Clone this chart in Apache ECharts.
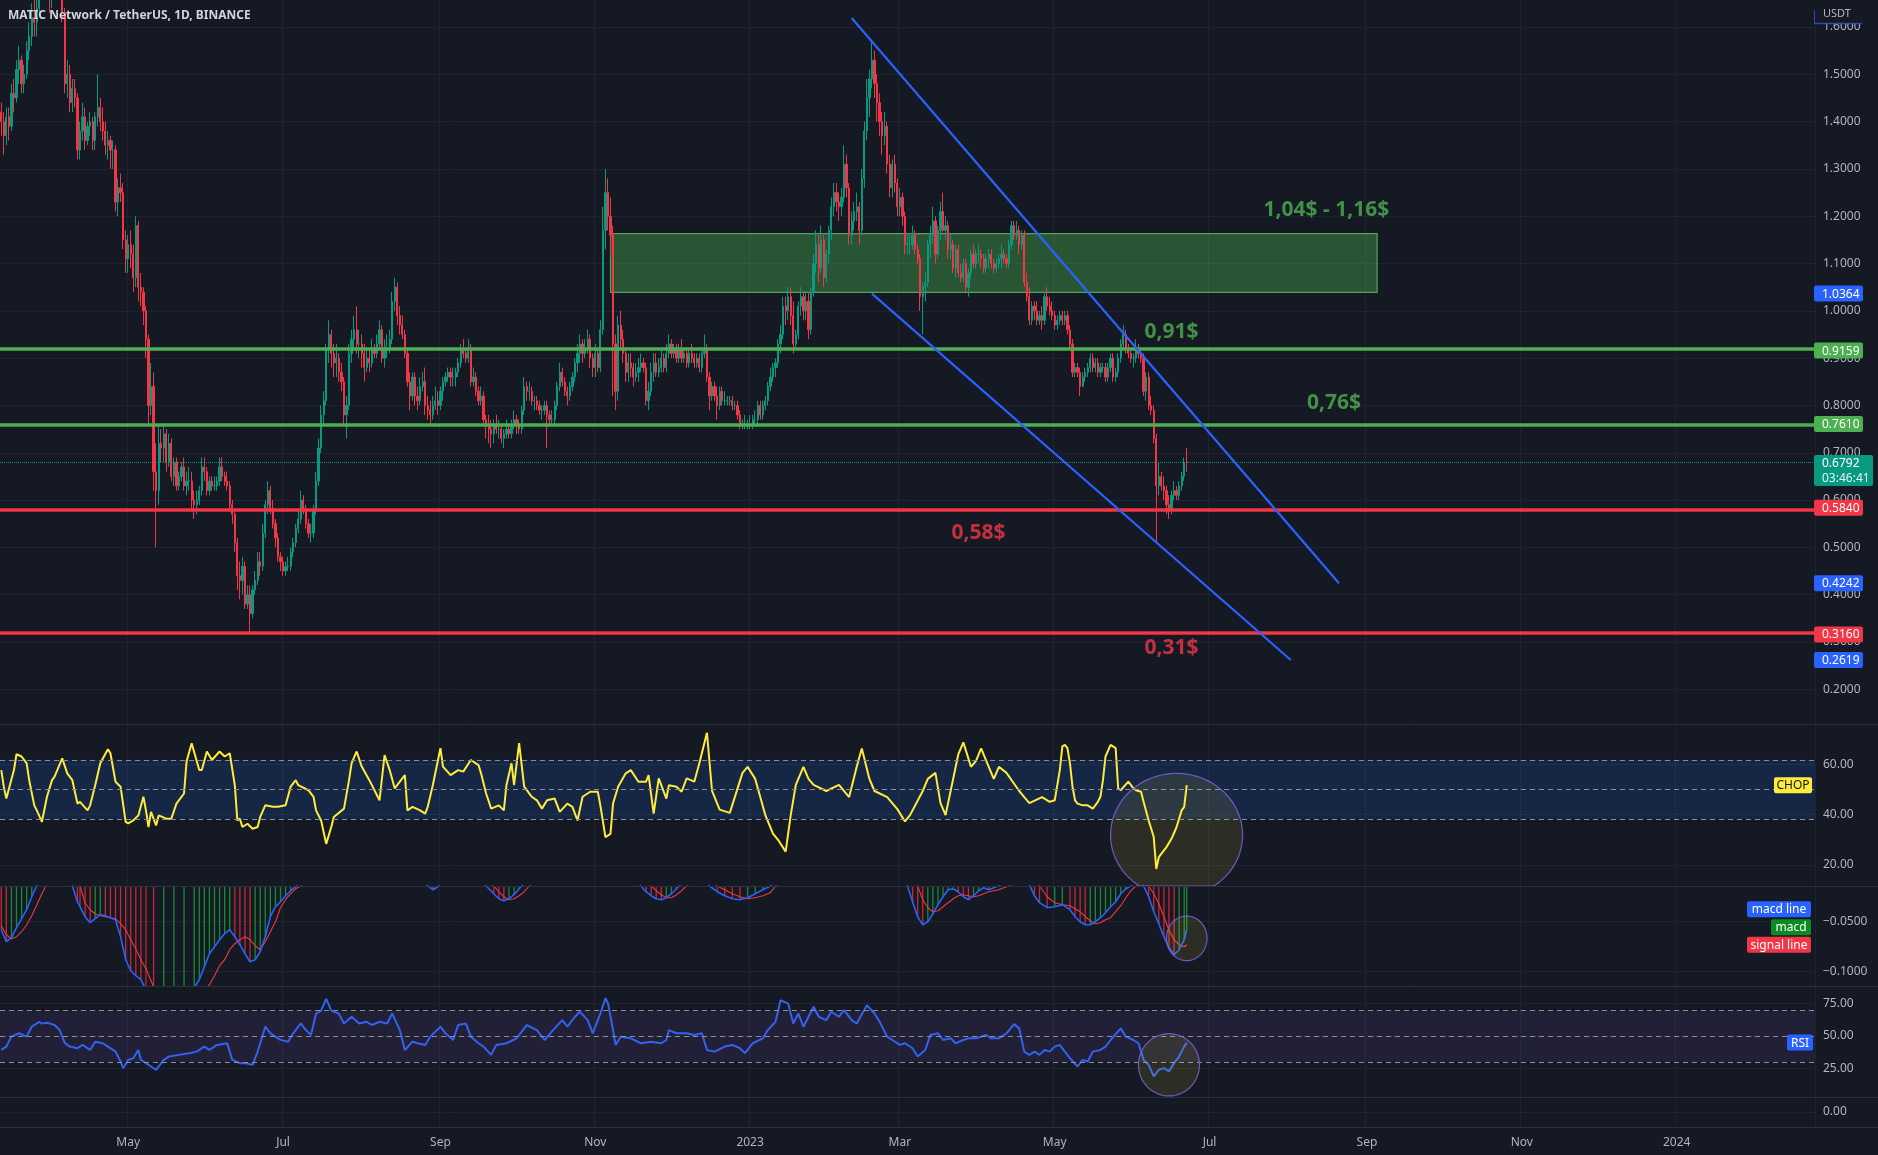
<!DOCTYPE html>
<html><head><meta charset="utf-8"><title>MATIC Network / TetherUS</title>
<script src="https://cdn.jsdelivr.net/npm/echarts@6.0.0/dist/echarts.min.js"></script>
<style>html,body{margin:0;padding:0;background:#151924;overflow:hidden}#chart{width:1878px;height:1155px}</style>
</head><body><div id="chart"></div>
<script>
// ---------------- DATA ----------------
const startDate = '2022-03-12';
const totalDays = 715;
const firstOpen = 1.42;
const closes = [
1.40,1.37,1.41,1.39,1.46,1.45,1.51,1.53,1.48,1.50,1.55,1.58,1.62,1.61,1.64,1.72,1.70,1.74,1.68,1.66,
1.72,1.69,1.73,1.70,1.63,1.48,1.50,1.44,1.47,1.45,1.34,1.38,1.41,1.36,1.39,1.40,1.36,1.41,1.43,1.40,1.38,1.35,1.36,1.34,1.34,1.23,1.26,1.25,1.15,1.11,
1.14,1.12,1.07,1.18,1.05,1.04,1.00,0.94,0.80,0.84,0.66,0.62,0.72,0.71,0.74,0.68,0.72,0.65,0.68,0.63,0.65,0.67,0.63,0.64,0.64,0.60,0.59,0.60,0.62,0.67,0.66,
0.62,0.64,0.63,0.63,0.64,0.67,0.65,0.64,0.63,0.59,0.57,0.51,0.44,0.43,0.46,0.38,0.40,0.36,0.41,0.43,0.47,0.46,0.53,0.59,0.62,0.58,0.55,0.52,0.48,0.47,
0.45,0.46,0.46,0.49,0.51,0.54,0.56,0.60,0.58,0.55,0.53,0.53,0.58,0.64,0.71,0.78,0.81,0.92,0.95,0.91,0.89,0.90,0.87,0.85,0.78,0.80,0.91,0.94,0.96,0.93,0.93,
0.91,0.88,0.90,0.89,0.92,0.91,0.93,0.96,0.90,0.92,0.92,0.94,1.02,1.05,0.99,0.97,0.95,0.91,0.85,0.82,0.86,0.82,0.81,0.84,0.85,0.80,0.79,0.78,0.80,0.81,0.80,
0.83,0.85,0.86,0.87,0.86,0.86,0.87,0.89,0.92,0.91,0.90,0.92,0.85,0.86,0.83,0.81,0.82,0.77,0.76,0.75,0.74,0.76,0.75,0.75,0.73,0.74,0.75,0.74,0.76,0.77,
0.76,0.75,0.79,0.84,0.83,0.83,0.81,0.81,0.80,0.79,0.79,0.80,0.78,0.77,0.77,0.80,0.84,0.87,0.85,0.83,0.82,0.84,0.86,0.89,0.91,0.93,0.91,0.92,0.94,0.90,0.88,
0.91,0.88,0.96,1.17,1.25,1.20,1.16,0.93,0.83,0.97,0.94,0.91,0.87,0.89,0.88,0.86,0.87,0.88,0.89,0.88,0.81,0.83,0.87,0.89,0.87,0.88,0.90,0.88,0.91,0.93,
0.91,0.92,0.90,0.92,0.90,0.91,0.89,0.91,0.90,0.89,0.90,0.88,0.91,0.92,0.86,0.82,0.84,0.82,0.80,0.83,0.81,0.81,0.81,0.81,0.80,0.80,0.78,0.76,0.76,0.76,0.76,
0.76,0.77,0.77,0.80,0.78,0.80,0.81,0.84,0.86,0.88,0.89,0.93,0.95,1.01,1.00,1.03,0.99,0.93,0.95,1.01,1.03,1.00,1.02,0.96,1.04,1.10,1.14,1.09,1.15,1.07,1.12,
1.17,1.22,1.25,1.23,1.22,1.24,1.31,1.26,1.16,1.19,1.21,1.22,1.17,1.28,1.38,1.45,1.49,1.53,1.48,1.44,1.40,1.37,1.39,1.31,1.26,1.31,1.27,1.22,
1.24,1.20,1.14,1.14,1.14,1.16,1.13,1.11,1.03,1.05,1.06,1.14,1.16,1.19,1.12,1.17,1.21,1.17,1.18,1.13,1.14,1.09,1.13,1.08,1.07,1.10,1.05,1.08,1.12,1.10,1.12,
1.12,1.11,1.09,1.11,1.12,1.10,1.09,1.10,1.11,1.12,1.11,1.10,1.14,1.18,1.16,1.17,1.14,1.16,1.06,1.03,0.98,1.01,1.00,0.98,0.99,0.98,1.03,1.01,1.00,0.99,
0.97,0.98,0.99,0.98,0.99,0.96,0.93,0.87,0.88,0.87,0.84,0.86,0.87,0.88,0.90,0.88,0.89,0.87,0.88,0.88,0.86,0.88,0.90,0.86,0.87,0.90,0.93,0.95,0.92,0.91,0.90,
0.90,0.92,0.91,0.90,0.83,0.86,0.80,0.79,0.73,0.63,0.65,0.63,0.62,0.59,0.58,0.61,0.62,0.61,0.63,0.65,0.68,0.6792];
const highs = [
1.44,1.42,1.43,1.43,1.48,1.49,1.53,1.56,1.54,1.52,1.57,1.61,1.65,1.66,1.66,1.76,1.75,1.76,1.76,1.71,
1.75,1.74,1.75,1.76,1.72,1.64,1.53,1.52,1.49,1.49,1.46,1.40,1.44,1.43,1.40,1.42,1.41,1.42,1.50,1.45,1.43,1.40,1.38,1.37,1.36,1.35,1.28,1.29,1.27,1.17,
1.16,1.17,1.14,1.20,1.19,1.08,1.05,1.01,0.95,0.89,0.87,0.72,0.76,0.75,0.76,0.75,0.74,0.73,0.69,0.69,0.66,0.68,0.69,0.66,0.67,0.66,0.62,0.62,0.63,0.69,0.69,
0.67,0.65,0.65,0.65,0.65,0.69,0.69,0.66,0.66,0.64,0.60,0.58,0.52,0.47,0.48,0.47,0.42,0.42,0.42,0.45,0.49,0.49,0.55,0.60,0.64,0.63,0.60,0.56,0.53,0.49,
0.48,0.47,0.48,0.50,0.52,0.55,0.58,0.62,0.61,0.59,0.56,0.55,0.59,0.66,0.73,0.80,0.83,0.93,0.98,0.96,0.93,0.93,0.91,0.89,0.86,0.82,0.93,0.96,0.99,1.01,0.96,
0.95,0.93,0.92,0.92,0.94,0.93,0.95,0.98,0.97,0.94,0.95,0.96,1.04,1.07,1.06,1.01,0.99,0.96,0.92,0.87,0.87,0.87,0.84,0.86,0.87,0.88,0.82,0.81,0.82,0.84,0.83,
0.84,0.86,0.87,0.88,0.88,0.88,0.88,0.90,0.93,0.94,0.92,0.94,0.93,0.88,0.87,0.84,0.84,0.83,0.78,0.78,0.77,0.77,0.78,0.77,0.76,0.75,0.77,0.76,0.77,0.79,
0.78,0.77,0.80,0.86,0.85,0.85,0.84,0.82,0.82,0.81,0.80,0.81,0.81,0.79,0.79,0.81,0.85,0.89,0.88,0.86,0.84,0.85,0.87,0.90,0.93,0.95,0.94,0.94,0.96,0.95,0.91,
0.93,0.92,0.98,1.22,1.30,1.28,1.24,1.18,0.95,0.99,1.00,0.96,0.92,0.91,0.91,0.89,0.89,0.90,0.91,0.90,0.89,0.85,0.89,0.91,0.91,0.90,0.92,0.91,0.93,0.95,
0.94,0.93,0.93,0.93,0.94,0.92,0.92,0.92,0.93,0.91,0.91,0.91,0.92,0.95,0.93,0.87,0.85,0.85,0.84,0.84,0.84,0.83,0.82,0.82,0.82,0.81,0.81,0.79,0.77,0.78,0.77,
0.78,0.78,0.79,0.81,0.81,0.81,0.82,0.85,0.88,0.89,0.90,0.94,0.97,1.03,1.03,1.05,1.05,1.02,0.96,1.02,1.05,1.04,1.04,1.04,1.05,1.12,1.17,1.16,1.18,1.16,1.13,
1.18,1.24,1.27,1.27,1.25,1.26,1.35,1.33,1.27,1.21,1.23,1.25,1.23,1.30,1.40,1.49,1.51,1.57,1.55,1.50,1.46,1.42,1.42,1.40,1.33,1.32,1.33,1.28,
1.26,1.25,1.21,1.16,1.16,1.18,1.17,1.14,1.12,1.06,1.08,1.15,1.18,1.22,1.20,1.18,1.23,1.25,1.20,1.19,1.16,1.15,1.14,1.14,1.10,1.11,1.11,1.09,1.13,1.14,1.13,
1.14,1.13,1.12,1.12,1.13,1.13,1.11,1.11,1.12,1.14,1.13,1.12,1.15,1.19,1.19,1.19,1.18,1.17,1.17,1.08,1.05,1.02,1.02,1.02,1.00,1.01,1.04,1.05,1.03,1.02,
1.00,0.99,1.00,1.00,1.00,1.00,0.97,0.94,0.89,0.89,0.88,0.87,0.88,0.89,0.91,0.91,0.90,0.90,0.89,0.89,0.89,0.89,0.91,0.91,0.88,0.91,0.94,0.97,0.96,0.93,0.92,
0.91,0.94,0.93,0.92,0.91,0.87,0.87,0.82,0.80,0.74,0.68,0.66,0.65,0.63,0.61,0.62,0.64,0.63,0.64,0.66,0.69,0.71];
const lows = [
1.37,1.33,1.35,1.36,1.38,1.42,1.44,1.48,1.46,1.46,1.49,1.53,1.56,1.58,1.58,1.63,1.67,1.68,1.66,1.63,
1.64,1.66,1.67,1.68,1.61,1.46,1.45,1.42,1.42,1.43,1.32,1.32,1.36,1.34,1.35,1.37,1.34,1.34,1.39,1.38,1.36,1.33,1.32,1.30,1.30,1.21,1.20,1.23,1.13,1.08,
1.08,1.09,1.04,1.05,1.02,1.01,0.97,0.90,0.76,0.78,0.62,0.50,0.59,0.68,0.68,0.66,0.67,0.64,0.63,0.62,0.62,0.64,0.62,0.61,0.62,0.58,0.56,0.57,0.59,0.61,0.64,
0.61,0.61,0.62,0.62,0.62,0.63,0.64,0.63,0.62,0.58,0.55,0.49,0.41,0.39,0.40,0.37,0.37,0.32,0.35,0.40,0.42,0.44,0.45,0.52,0.57,0.57,0.54,0.50,0.47,0.45,
0.44,0.44,0.45,0.45,0.48,0.50,0.53,0.55,0.57,0.54,0.52,0.51,0.52,0.57,0.63,0.70,0.76,0.80,0.89,0.88,0.86,0.86,0.85,0.83,0.76,0.73,0.79,0.89,0.92,0.91,0.90,
0.88,0.85,0.87,0.87,0.88,0.90,0.90,0.92,0.89,0.88,0.90,0.91,0.93,1.00,0.97,0.95,0.94,0.90,0.84,0.79,0.81,0.80,0.79,0.80,0.83,0.78,0.77,0.76,0.77,0.79,0.78,
0.79,0.81,0.84,0.85,0.84,0.84,0.84,0.86,0.88,0.90,0.89,0.89,0.84,0.84,0.82,0.80,0.80,0.76,0.73,0.72,0.71,0.72,0.74,0.73,0.72,0.71,0.73,0.73,0.73,0.75,
0.74,0.74,0.74,0.78,0.81,0.81,0.80,0.79,0.79,0.78,0.77,0.78,0.71,0.76,0.76,0.76,0.79,0.83,0.84,0.82,0.80,0.81,0.83,0.85,0.87,0.89,0.89,0.90,0.91,0.88,0.86,
0.86,0.87,0.87,0.95,1.13,1.17,1.12,0.82,0.79,0.81,0.92,0.89,0.85,0.85,0.86,0.84,0.85,0.85,0.87,0.87,0.80,0.79,0.82,0.85,0.86,0.86,0.87,0.87,0.87,0.90,
0.90,0.90,0.89,0.89,0.89,0.89,0.88,0.88,0.89,0.88,0.88,0.87,0.87,0.90,0.85,0.79,0.81,0.81,0.77,0.79,0.80,0.80,0.80,0.80,0.79,0.79,0.77,0.75,0.75,0.75,0.75,
0.75,0.75,0.76,0.76,0.77,0.77,0.79,0.80,0.83,0.85,0.86,0.88,0.91,0.94,0.97,0.98,0.97,0.91,0.92,0.94,0.99,0.98,0.98,0.94,0.95,1.03,1.08,1.06,1.08,1.05,1.06,
1.10,1.15,1.20,1.21,1.19,1.20,1.23,1.24,1.14,1.14,1.17,1.19,1.14,1.16,1.26,1.36,1.41,1.47,1.45,1.40,1.37,1.33,1.35,1.29,1.24,1.24,1.25,1.20,
1.20,1.18,1.12,1.12,1.12,1.13,1.12,1.10,1.00,0.95,1.02,1.05,1.11,1.14,1.10,1.11,1.15,1.16,1.15,1.11,1.11,1.08,1.07,1.07,1.06,1.06,1.04,1.03,1.07,1.09,1.09,
1.10,1.09,1.08,1.08,1.09,1.09,1.08,1.08,1.09,1.09,1.10,1.09,1.09,1.13,1.15,1.15,1.12,1.13,1.05,1.02,0.97,0.97,0.98,0.97,0.97,0.96,0.97,1.00,0.99,0.98,
0.96,0.96,0.97,0.97,0.97,0.95,0.92,0.86,0.86,0.86,0.82,0.84,0.85,0.86,0.87,0.87,0.87,0.86,0.86,0.87,0.85,0.85,0.87,0.85,0.85,0.86,0.89,0.92,0.91,0.90,0.89,
0.88,0.89,0.90,0.89,0.82,0.81,0.79,0.78,0.72,0.51,0.61,0.62,0.60,0.57,0.56,0.57,0.60,0.60,0.60,0.62,0.64,0.66];

const tickDates  = ['2022-05-01','2022-07-01','2022-09-01','2022-11-01','2023-01-01','2023-03-01','2023-05-01','2023-07-01','2023-09-01','2023-11-01','2024-01-01'];
const tickLabels = ['May','Jul','Sep','Nov','2023','Mar','May','Jul','Sep','Nov','2024'];
const priceTicks = [0.2,0.3,0.4,0.5,0.6,0.7,0.8,0.9,1.0,1.1,1.2,1.3,1.4,1.5,1.6];
const chopTicks = [20,40,60];
const macdTicks = [-0.05,-0.10];
const rsiTicks = [25,50,75];

const greenLevels = [0.9159, 0.7610];
const redLevels = [0.5840, 0.3160];
const lastPrice = 0.6792;
const countdown = '03:46:41';
const zoneDates = ['2022-11-07','2023-09-05'];
const zonePrices = [1.163, 1.039];
const upperTrendDates = ['2023-02-10','2023-08-21'];
const upperTrendPrices = [1.619, 0.4242];
const lowerTrendDates = ['2023-02-18','2023-08-02'];
const lowerTrendPrices = [1.0364, 0.2619];
const noteTexts  = ['1,04$ - 1,16$','0,91$','0,76$','0,58$','0,31$'];
const noteDates  = ['2023-08-16','2023-06-16','2023-08-19','2023-04-01','2023-06-16'];
const notePrices = [1.213, 0.956, 0.8046, 0.5313, 0.2867];
const noteColors = ['#4caf50','#4caf50','#4caf50','#f23645','#f23645'];

const chopDays = [0,1,2,5,6,8,10,11,13,14, 16,18,20,21,24,26,28,30,31,34, 35,37,39,42,43,45,47,49,50,52, 54,56,57,58,59,61,62,65,67,69,
 72,73,75,78,79,81,83,86,88,90, 92,93,94,95,97,99,101,102,104,107, 109,112,114,116,117,121,123,124,126,128, 130,131,135,137,138,140,142,145,149,151,
 153,155,157,159,160,162,165,167,168,170, 173,174,177,180,182,185,188,189,191,193, 196,198,199,201,202,204,206,209,211,213, 215,218,220,223,225,227,229,232,235,236,
 238,240,241,243,246,248,251,254,255,257, 259,262,263,266,268,270,273,275,278,280, 283,287,292,294,297,299,301,304,306,309, 311,313,316,318,320,325,330,334,337,339,
 342,344,349,353,356,358,363,365,368,370, 372,377,379,382,384,386,389,391,393,396, 401,403,405,410,413,415,417,418,419,420, 421,422,423,424,426,428,430,432,433,434,
 435,437,439,440,441,444,446,447,449,450, 452,454,455,456,459,461,463,465,466,467];
const chopVals = [57.7,51.1,46.4,57.7,64.0,63.1,60.4,53.7,43.7,41.7, 37.1,47.1,53.7,55.1,62.4,56.4,53.7,44.4,45.1,41.7, 43.7,51.7,60.4,66.0,64.4,53.1,51.1,37.1,36.5,37.7, 39.7,47.1,41.7,35.1,41.1,35.7,39.7,38.4,38.4,44.4,
 48.4,61.1,68.4,57.7,57.7,65.1,61.7,65.1,63.1,64.4, 51.7,37.7,38.4,35.1,36.4,34.4,35.1,39.1,43.7,43.1, 43.1,43.7,51.1,53.7,51.7,49.7,47.1,41.7,37.7,28.4, 35.1,39.1,42.4,53.7,60.4,65.1,59.1,53.7,45.7,63.7,
 57.7,50.4,53.1,55.7,41.7,43.1,41.7,40.4,43.1,51.7, 66.4,59.1,55.7,57.7,57.1,61.7,59.7,56.4,48.4,42.4, 43.7,41.7,51.7,60.4,51.7,68.4,51.1,47.1,45.7,42.4, 45.7,46.4,41.1,44.4,43.1,37.7,47.1,49.1,49.1,43.7,
 31.1,32.4,44.4,51.1,56.4,57.7,53.1,53.1,55.7,40.4, 54.4,46.4,51.7,51.1,49.1,54.4,53.1,60.4,72.5,49.4, 42.0,40.7,56.6,59.0,54.2,47.0,39.8,32.5,30.0,25.3, 39.8,51.8,59.0,54.2,51.8,49.4,51.8,47.0,59.0,66.3,
 54.2,49.4,47.0,42.2,37.3,39.8,49.4,54.2,56.6,44.6, 39.8,63.9,68.7,59.0,61.4,66.3,59.0,54.2,59.0,56.6, 49.4,47.0,44.6,47.0,45.1,45.7,57.7,67.1,67.7,66.4, 60.4,51.1,45.7,44.4,43.7,43.7,42.4,45.1,47.1,53.7,
 63.1,67.7,66.4,50.4,49.7,53.1,50.4,49.7,49.1,45.1, 37.7,31.1,18.4,23.1,27.1,30.4,35.1,41.7,43.1,51.7];

const rsiDays = [0,2,4,7,10,12,15,16,18,21, 23,25,27,30,32,35,37,40,42,45, 47,48,50,52,54,55,57,59,61,64, 66,70,74,77,80,82,85,89,91,94,
 96,99,101,104,106,110,113,115,118,120, 122,124,126,128,130,133,135,138,141,144, 146,149,152,154,157,159,162,164,167,169, 173,175,178,180,183,185,188,190,193,195,
 199,203,207,211,214,218,221,223,226,228, 231,233,236,238,239,241,242,244,248,252, 256,260,262,263,266,270,273,276,278,281, 285,288,291,293,296,300,302,305,307,310,
 312,314,316,320,322,325,327,330,332,335, 337,341,344,346,349,351,354,356,359,361, 364,366,369,371,374,376,379,381,384,388, 390,393,396,399,401,403,405,407,409,411,
 413,415,417,419,421,424,426,428,430,433, 435,437,441,443,446,448,450,452,454,456, 458,460,462,464,466,467];
const rsiVals = [39.2,41.8,49.5,52.1,49.5,57.2,61.0,59.7,60.3,58.5, 54.6,44.6,41.8,40.5,43.1,39.2,45.6,44.4,41.8,37.9, 30.3,25.1,31.5,32.8,39.2,31.5,29.0,26.4,23.8,31.5, 34.1,35.4,36.7,37.9,41.8,39.2,43.1,44.4,31.5,29.0,
 29.0,27.7,38.0,57.2,52.1,47.0,45.6,52.1,59.7,54.6, 50.8,67.2,69.7,78.7,69.7,67.2,59.7,64.9,59.7,61.0, 58.5,61.0,59.7,67.4,54.6,39.2,45.6,44.4,43.1,49.5, 57.2,52.1,46.9,58.5,59.7,49.5,44.4,41.8,35.4,43.1,
 44.4,48.2,58.5,54.6,46.9,55.9,62.3,57.2,64.9,68.7, 62.3,52.1,67.4,79.2,75.4,54.6,43.1,49.5,48.2,44.4, 45.6,44.4,46.9,54.6,52.1,52.1,50.8,52.1,39.2,37.9, 41.8,43.1,40.5,36.7,44.4,48.2,54.6,61.0,77.7,75.1,
 59.7,67.4,57.2,72.6,64.9,62.3,68.7,64.9,70.0,62.3, 59.7,73.8,67.4,61.0,49.5,46.9,43.1,44.4,40.5,34.1, 39.2,50.8,52.1,46.9,48.2,44.4,46.9,48.2,48.2,50.8, 48.2,48.2,52.1,59.2,55.9,37.9,35.4,37.9,35.4,39.2,
 37.9,41.8,43.1,37.9,32.8,26.4,31.5,30.3,37.9,39.2, 41.8,46.9,55.9,49.5,46.9,44.4,31.5,27.7,18.7,23.8, 25.1,22.6,29.0,34.1,41.8,44.9];

const macdDays = [0,2,4,6,8,10,12,14,16,18, 22,26,28,30,31,33,35,37,39,41, 43,45,47,49,51,53,55,57,60,64, 68,72,76,78,80,82,84,86,88,90,
 92,94,96,98,100,102,104,106,108,110, 112,114,116,118,120,125,130,140,150,160, 165,168,170,172,174,178,183,188,191,194, 196,198,200,202,204,206,208,211,215,220,
 228,235,240,245,248,252,254,256,258,260, 262,264,266,268,270,272,276,279,282,285, 288,291,294,297,300,303,305,308,315,325, 335,342,348,352,354,357,359,361,363,365,
 367,369,371,373,375,377,379,381,383,385, 387,389,391,393,395,397,400,403,405,407, 409,412,415,418,421,423,425,427,429,431, 433,435,437,439,441,443,445,447,449,450,
 452,454,456,458,460,462,464,466,467];
const macdVals = [-0.058,-0.070,-0.066,-0.056,-0.047,-0.038,-0.025,-0.014,-0.004,0.006, 0.015,0.012,-0.014,-0.030,-0.035,-0.045,-0.051,-0.047,-0.043,-0.044,
 -0.046,-0.048,-0.065,-0.088,-0.099,-0.104,-0.108,-0.118,-0.130,-0.128, -0.124,-0.120,-0.116,-0.108,-0.095,-0.082,-0.075,-0.068,-0.062,-0.058,
 -0.065,-0.073,-0.082,-0.090,-0.088,-0.080,-0.065,-0.045,-0.035,-0.030, -0.024,-0.019,-0.015,-0.008,0.000,0.015,0.040,0.050,0.030,0.005,
 -0.008,-0.014,-0.018,-0.015,-0.008,0.000,0.005,-0.008,-0.0143,-0.022, -0.027,-0.029,-0.027,-0.023,-0.017,-0.012,-0.008,-0.003,0.000,0.005,
 0.010,0.020,0.045,0.030,0.000,-0.0143,-0.020,-0.024,-0.027,-0.028, -0.026,-0.022,-0.017,-0.012,-0.008,-0.006,-0.005,-0.0143,-0.020,-0.024,
 -0.027,-0.028,-0.026,-0.022,-0.018,-0.0143,-0.008,0.000,0.020,0.040, 0.045,0.060,0.040,0.015,0.000,-0.0143,-0.030,-0.045,-0.053,-0.050,
 -0.042,-0.033,-0.025,-0.018,-0.017,-0.020,-0.025,-0.028,-0.024,-0.019, -0.016,-0.018,-0.016,-0.014,-0.010,-0.006,0.000,0.000,-0.013,-0.024,
 -0.031,-0.036,-0.035,-0.033,-0.038,-0.045,-0.050,-0.053,-0.053,-0.050, -0.046,-0.041,-0.035,-0.030,-0.022,-0.017,-0.0143,-0.010,-0.011,-0.0143,
 -0.025,-0.040,-0.052,-0.065,-0.076,-0.083,-0.078,-0.068,-0.058];
const signalVals = [-0.054,-0.063,-0.067,-0.065,-0.060,-0.053,-0.044,-0.033,-0.022,-0.012, 0.002,0.008,0.000,-0.010,-0.0143,-0.031,-0.038,-0.042,-0.044,-0.045,
 -0.046,-0.047,-0.052,-0.058,-0.068,-0.077,-0.088,-0.097,-0.115,-0.122, -0.125,-0.126,-0.124,-0.122,-0.119,-0.113,-0.104,-0.094,-0.088,-0.078,
 -0.072,-0.068,-0.065,-0.068,-0.074,-0.078,-0.070,-0.060,-0.050,-0.036, -0.028,-0.022,-0.017,-0.0143,-0.008,0.000,0.020,0.045,0.035,0.015,
 0.000,-0.006,-0.010,-0.013,-0.012,-0.008,-0.005,-0.006,-0.010,-0.0143, -0.020,-0.025,-0.028,-0.027,-0.024,-0.020,-0.0143,-0.009,-0.005,0.000,
 0.005,0.010,0.020,0.028,0.015,0.002,-0.008,-0.0143,-0.019,-0.023, -0.026,-0.026,-0.023,-0.019,-0.0143,-0.010,-0.008,-0.009,-0.0143,-0.018,
 -0.022,-0.025,-0.027,-0.026,-0.024,-0.021,-0.0143,-0.008,0.005,0.030, 0.040,0.045,0.045,0.035,0.025,0.015,0.002,-0.0143,-0.028,-0.036,
 -0.040,-0.039,-0.035,-0.031,-0.027,-0.024,-0.023,-0.024,-0.025,-0.024, -0.022,-0.020,-0.019,-0.018,-0.016,-0.0143,-0.010,-0.006,-0.008,-0.010,
 -0.0143,-0.025,-0.031,-0.033,-0.034,-0.037,-0.040,-0.045,-0.049,-0.052, -0.051,-0.048,-0.046,-0.040,-0.034,-0.026,-0.019,-0.0143,-0.012,-0.012,
 -0.0143,-0.022,-0.032,-0.045,-0.058,-0.068,-0.073,-0.075,-0.073];

const chopGuides = [38.2, 50, 61.8];
const rsiGuides = [30, 50, 70];
// ellipse annotations: [gridIndex, centerDate, centerValue, halfWidthDays, halfHeightValue]
const ellipseGrid = [1, 2, 3];
const ellipseDates = ['2023-06-18','2023-06-22','2023-06-15'];
const ellipseValues = [31.9, -0.0666, 27.7];
const ellipseHalfDays = [26, 8, 12];
const ellipseHalfValues = [24.5, 0.0223, 24.1];

// ---------------- BUILD ----------------
const BG = '#151924', GRIDC = '#1f2330', AXT = '#b2b5be', SEP = '#2c303b';
const FONT = "'Noto Sans', 'Open Sans', sans-serif";
const UP = '#089981', DOWN = '#f23645';
const t0 = Date.parse(startDate + 'T00:00:00Z');
const dates = Array.from({length: totalDays}, (_, i) => new Date(t0 + i * 86400000).toISOString().slice(0, 10));
const candles = closes.map((c, i) => {
  const o = i ? closes[i - 1] : firstOpen;
  return [o, c, Math.min(lows[i], o, c), Math.max(highs[i], o, c)];
});
const tickSet = new Set(tickDates);
const isTick = (idx, val) => tickSet.has(val);
const W = 1815;
const panes = [[0, 724], [724, 162], [886, 100], [986, 111], [1097, 30]];
const yRanges = [[0.1267, 1.6570], [11.66, 76.01], [-0.1143, -0.0143], [2.79, 88.70], [-1, 1]];
const yTicks = [priceTicks, chopTicks, macdTicks, rsiTicks, [0]];
const yFmt = [v => v.toFixed(4), v => v.toFixed(2), v => v.toFixed(4).replace('-', '\u2212'), v => v.toFixed(2), v => '0.00'];

const grids = panes.map(p => ({left: 0, top: p[0], width: W, height: p[1], outerBoundsMode: 'none', containLabel: false}));
const xAxes = panes.map((p, g) => ({
  type: 'category', gridIndex: g, data: dates, boundaryGap: true,
  axisLine: {show: false}, axisTick: {show: false},
  axisLabel: g === 4 ? {show: true, interval: isTick, formatter: v => tickLabels[tickDates.indexOf(v)], color: AXT, fontSize: 12, fontFamily: FONT, margin: 10} : {show: false},
  splitLine: {show: true, interval: isTick, lineStyle: {color: GRIDC, width: 1}}
}));
const yAxes = panes.map((p, g) => ({
  type: 'value', gridIndex: g, position: 'right', min: yRanges[g][0], max: yRanges[g][1],
  axisLine: {show: false}, axisTick: {show: false, customValues: yTicks[g]},
  axisLabel: {show: true, customValues: yTicks[g], formatter: yFmt[g], color: AXT, fontSize: 12, fontFamily: FONT, margin: 8},
  splitLine: {show: true, lineStyle: {color: GRIDC, width: 1}}
}));

const levelLines = greenLevels.map(v => ({yAxis: v, lineStyle: {color: '#4caf50', width: 3.5, type: 'solid'}}))
  .concat(redLevels.map(v => ({yAxis: v, lineStyle: {color: '#f23645', width: 3.5, type: 'solid'}})))
  .concat([{yAxis: lastPrice, lineStyle: {color: '#089981', width: 1, type: 'dotted', opacity: 0.9}}]);
const trendLines = [
  [{coord: [upperTrendDates[0], upperTrendPrices[0]]}, {coord: [upperTrendDates[1], upperTrendPrices[1]]}],
  [{coord: [lowerTrendDates[0], lowerTrendPrices[0]]}, {coord: [lowerTrendDates[1], lowerTrendPrices[1]]}]
];

const histData = macdDays.map((d, k) => ({
  value: [dates[d], macdVals[k]],
  itemStyle: {color: (k > 0 && macdVals[k] >= macdVals[k - 1]) ? '#1a8a35' : '#c42a32'}
}));

const option = {
  backgroundColor: BG,
  animation: false,
  textStyle: {fontFamily: FONT},
  grid: grids, xAxis: xAxes, yAxis: yAxes,
  series: [
    {
      type: 'candlestick', xAxisIndex: 0, yAxisIndex: 0, data: candles, barWidth: 1.8, clip: true,
      itemStyle: {color: UP, color0: DOWN, borderColor: UP, borderColor0: DOWN, borderWidth: 1},
      markArea: {silent: true, itemStyle: {color: 'rgba(76,175,80,0.40)', borderColor: 'rgba(96,190,100,0.8)', borderWidth: 1.2},
        data: [[{coord: [zoneDates[0], zonePrices[0]]}, {coord: [zoneDates[1], zonePrices[1]]}]]},
      markLine: {silent: true, symbol: ['none', 'none'], label: {show: false},
        data: levelLines.concat(trendLines.map(t => [Object.assign({lineStyle: {color: '#2962ff', width: 2.2, type: 'solid'}}, t[0]), t[1]]))}
    },
    {
      type: 'scatter', xAxisIndex: 0, yAxisIndex: 0, symbolSize: 1, itemStyle: {color: 'rgba(0,0,0,0)'}, z: 5,
      data: noteTexts.map((t, k) => ({name: t, value: [noteDates[k], notePrices[k]],
        label: {show: true, position: 'inside', formatter: '{b}', color: noteColors[k], fontSize: 21, fontWeight: 'bold', fontFamily: FONT}}))
    },
    {
      type: 'line', xAxisIndex: 1, yAxisIndex: 1, data: chopDays.map((d, k) => [dates[d], chopVals[k]]),
      showSymbol: false, symbol: 'none', lineStyle: {color: '#ffeb3b', width: 2}, z: 4,
      markArea: {silent: true, itemStyle: {color: 'rgba(33,110,243,0.16)'}, data: [[{yAxis: chopGuides[0]}, {yAxis: chopGuides[2]}]]},
      markLine: {silent: true, symbol: ['none', 'none'], label: {show: false}, lineStyle: {color: '#8c8f9a', type: [5, 4], width: 1},
        data: chopGuides.map(v => ({yAxis: v}))}
    },
    {
      type: 'bar', xAxisIndex: 2, yAxisIndex: 2, data: histData, barWidth: 1.3, clip: true, z: 2
    },
    {
      type: 'line', xAxisIndex: 2, yAxisIndex: 2, data: macdDays.map((d, k) => [dates[d], macdVals[k]]),
      showSymbol: false, symbol: 'none', lineStyle: {color: '#2962ff', width: 1.6}, z: 4
    },
    {
      type: 'line', xAxisIndex: 2, yAxisIndex: 2, data: macdDays.map((d, k) => [dates[d], signalVals[k]]),
      showSymbol: false, symbol: 'none', lineStyle: {color: '#f23645', width: 1.1}, z: 3
    },
    {
      type: 'line', xAxisIndex: 3, yAxisIndex: 3, data: rsiDays.map((d, k) => [dates[d], rsiVals[k]]),
      showSymbol: false, symbol: 'none', lineStyle: {color: '#3461f0', width: 2}, z: 4,
      markArea: {silent: true, itemStyle: {color: 'rgba(126,87,194,0.12)'}, data: [[{yAxis: rsiGuides[0]}, {yAxis: rsiGuides[2]}]]},
      markLine: {silent: true, symbol: ['none', 'none'], label: {show: false}, lineStyle: {color: '#8c8f9a', type: [5, 4], width: 1},
        data: rsiGuides.map(v => ({yAxis: v}))}
    }
  ]
};

const chart = echarts.init(document.getElementById('chart'), null, {renderer: 'canvas', width: 1878, height: 1155});
chart.setOption(option);

// ---------------- OVERLAYS (positioned through the axes' scales) ----------------
const gfx = [];
panes.slice(1).forEach(p => gfx.push({type: 'line', silent: true, z: 100, shape: {x1: 0, y1: p[0] + 0.5, x2: 1878, y2: p[0] + 0.5}, style: {stroke: SEP, lineWidth: 1}}));
gfx.push({type: 'line', silent: true, z: 100, shape: {x1: 0, y1: 1127.5, x2: 1878, y2: 1127.5}, style: {stroke: SEP, lineWidth: 1}});

function txt(x, y, text, fill, font, align) {
  return {type: 'text', silent: true, z: 130, x: x, y: y,
    style: {text: text, fill: fill, font: font, textAlign: align || 'left', align: align || 'left', textVerticalAlign: 'middle', verticalAlign: 'middle'}};
}
gfx.push(txt(8, 16, 'MATIC Network / TetherUS, 1D, BINANCE', '#d1d4dc', "bold 12px 'Noto Sans'"));
// USDT header in the price scale
gfx.push({type: 'rect', silent: true, z: 120, shape: {x: 1815, y: 0, width: 63, height: 23}, style: {fill: BG}});
gfx.push({type: 'line', silent: true, z: 121, shape: {x1: 1814.5, y1: 10, x2: 1814.5, y2: 24}, style: {stroke: '#2a4bb8', lineWidth: 1}});
gfx.push({type: 'line', silent: true, z: 121, shape: {x1: 1814, y1: 23.5, x2: 1862, y2: 23.5}, style: {stroke: '#2a4bb8', lineWidth: 1.5}});
gfx.push(txt(1823, 14, 'USDT', AXT, "11px 'Noto Sans'"));

const py = v => chart.convertToPixel({yAxisIndex: 0}, v);
function priceBadge(v, bg) {
  const y = py(v);
  gfx.push({type: 'rect', silent: true, z: 125, shape: {x: 1814, y: y - 8, width: 49, height: 16, r: 2}, style: {fill: bg}});
  gfx.push(txt(1822, y + 0.5, v.toFixed(4), '#ffffff', "12px 'Noto Sans'"));
}
priceBadge(lowerTrendPrices[0], '#2962ff');
priceBadge(upperTrendPrices[1], '#2962ff');
priceBadge(lowerTrendPrices[1], '#2962ff');
greenLevels.forEach(v => priceBadge(v, '#4caf50'));
redLevels.forEach(v => priceBadge(v, '#f23645'));
(function () {
  const y = py(lastPrice);
  gfx.push({type: 'rect', silent: true, z: 126, shape: {x: 1814, y: y - 7.5, width: 59, height: 31, r: 2}, style: {fill: '#089981'}});
  gfx.push(txt(1822, y + 0.5, lastPrice.toFixed(4), '#ffffff', "12px 'Noto Sans'"));
  gfx.push(txt(1822, y + 15.5, countdown, '#e6f4f1', "12px 'Noto Sans'"));
})();

function paneBadge(g, v, text, bg, fg, xRight, w, yOverride) {
  const y = yOverride != null ? yOverride : chart.convertToPixel({yAxisIndex: g}, v);
  gfx.push({type: 'rect', silent: true, z: 125, shape: {x: xRight - w, y: y - 8, width: w, height: 16, r: 2}, style: {fill: bg}});
  gfx.push(txt(xRight - w / 2, y + 0.5, text, fg, "12px 'Noto Sans'", 'center'));
  return y;
}
paneBadge(1, chopVals[chopVals.length - 1], 'CHOP', '#ffeb3b', '#131722', 1812, 38);
paneBadge(3, rsiVals[rsiVals.length - 1], 'RSI', '#2962ff', '#ffffff', 1813, 26);
const sigY = paneBadge(2, signalVals[signalVals.length - 1], 'signal line', '#f23645', '#ffffff', 1811, 64);
const mY = Math.min(chart.convertToPixel({yAxisIndex: 2}, macdVals[macdVals.length - 1]), sigY - 17.5);
paneBadge(2, null, 'macd', '#0b8c22', '#ffffff', 1811, 40, mY);
paneBadge(2, null, 'macd line', '#2962ff', '#ffffff', 1811, 64, mY - 18);

// ellipses, clipped to their own pane
ellipseGrid.forEach((g, k) => {
  const di = dates.indexOf(ellipseDates[k]);
  const c = chart.convertToPixel({xAxisIndex: g, yAxisIndex: g}, [ellipseDates[k], ellipseValues[k]]);
  const e = chart.convertToPixel({xAxisIndex: g, yAxisIndex: g}, [dates[di + ellipseHalfDays[k]], ellipseValues[k] + ellipseHalfValues[k]]);
  const rx = Math.abs(e[0] - c[0]), ry = Math.abs(e[1] - c[1]);
  const top = panes[g][0], bot = panes[g][0] + panes[g][1];
  const pts = [];
  for (let s = 0; s < 120; s++) {
    const t = s / 120 * Math.PI * 2;
    pts.push([c[0] + rx * Math.cos(t), Math.max(top, Math.min(bot, c[1] + ry * Math.sin(t)))]);
  }
  gfx.push({type: 'polygon', silent: true, z: 95, shape: {points: pts}, style: {fill: 'rgba(255,235,59,0.10)', stroke: 'rgba(120,95,210,0.9)', lineWidth: 1.2}});
});

chart.setOption({graphic: {elements: gfx}});
</script></body></html>
